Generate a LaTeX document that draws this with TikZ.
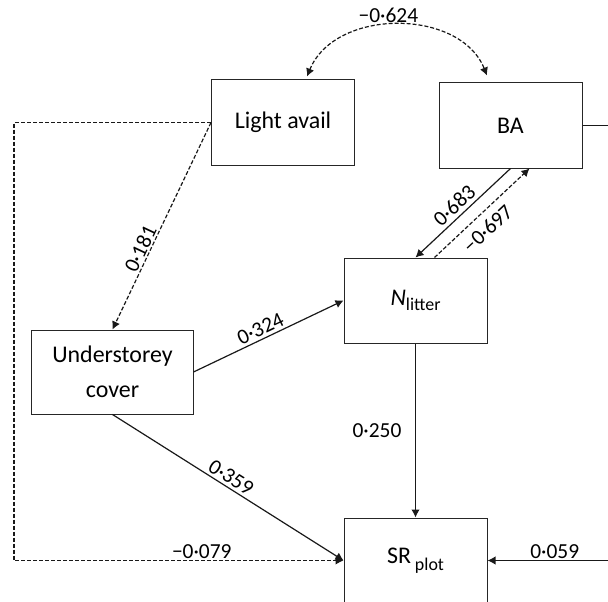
\documentclass[tikz,border=0pt]{standalone}
\usepackage{fontspec}
\setmainfont{Carlito}
\usetikzlibrary{arrows.meta}
\begin{document}
\begin{tikzpicture}[x=1bp,y=-1bp]
\tikzset{
 box/.style={draw=black!85, line width=1bp, minimum width=143bp, minimum height=85bp, inner sep=0pt, font=\fontsize{24}{35}\selectfont, align=center, text=black},
 conn/.style={draw=black!90, line width=1.2bp},
 dsh/.style={conn, dash pattern=on 4bp off 2bp},
 tip/.style={-{Latex[length=8bp,width=8.5bp]}},
 dtip/.style={{Latex[length=8bp,width=8.5bp]}-{Latex[length=8bp,width=8.5bp]}},
 lab/.style={font=\fontsize{21.5}{21.5}\selectfont, inner sep=1.5bp, text=black},
}
\useasboundingbox (0,0) rectangle (608,602);
\node[box] (light) at (283,122.5) {Light avail};
\node[box] (ba) at (510.5,125.5) {BA};
\node[box] (nlit) at (415.5,300.5) {\textit{N}\raisebox{-5bp}{\fontsize{18}{18}\selectfont litter}};
\node[box, minimum width=161bp, minimum height=84bp] (under) at (112.5,372) {Understorey\\cover};
\node[box] (sr) at (415.5,560.5) {SR\,\raisebox{-7bp}{\fontsize{18}{18}\selectfont plot}};
\coordinate (lc) at (14,560.5);
\coordinate (baout) at (612,125.5);
\coordinate (srin) at (612,560.5);
% correlations
\draw[dsh, dtip] ([xshift=24bp,yshift=3bp]light.north) .. controls (335,8) and (460,8) .. ([xshift=-23.5bp,yshift=7bp]ba.north) node[lab, pos=0.5, above, xshift=-9bp] {−0·624};
% paths
\draw[dsh, tip] (light.west) -- (under.north) node[lab, sloped, above=0bp, pos=0.63] {0·181};
\draw[dsh, tip] (light.west) -| (lc) -- (sr.west) node[lab, above, pos=0.57] {−0·079};
\draw[conn, tip] (under.east) -- (nlit.west) node[lab, sloped, above=1bp, pos=0.475] {0·324};
\draw[conn, tip] (under.south) -- (sr.west) node[lab, sloped, above=1bp, pos=0.49] {0·359};
\draw[conn, tip] (nlit.south) -- (sr.north) node[lab, left=12bp, pos=0.5] {0·250};
\draw[conn, tip] (ba.south) -- (nlit.north) node[lab, sloped, above=2bp, pos=0.51] {0·683};
\draw[dsh, tip] ([xshift=19bp]nlit.north) -- ([xshift=19bp]ba.south) node[lab, sloped, below=6bp, pos=0.45] {−0·697};
\draw[conn] (ba.east) -- (baout);
\draw[conn, tip] (srin) -- (sr.east) node[lab, above, pos=0.46] {0·059};
\end{tikzpicture}
\end{document}
